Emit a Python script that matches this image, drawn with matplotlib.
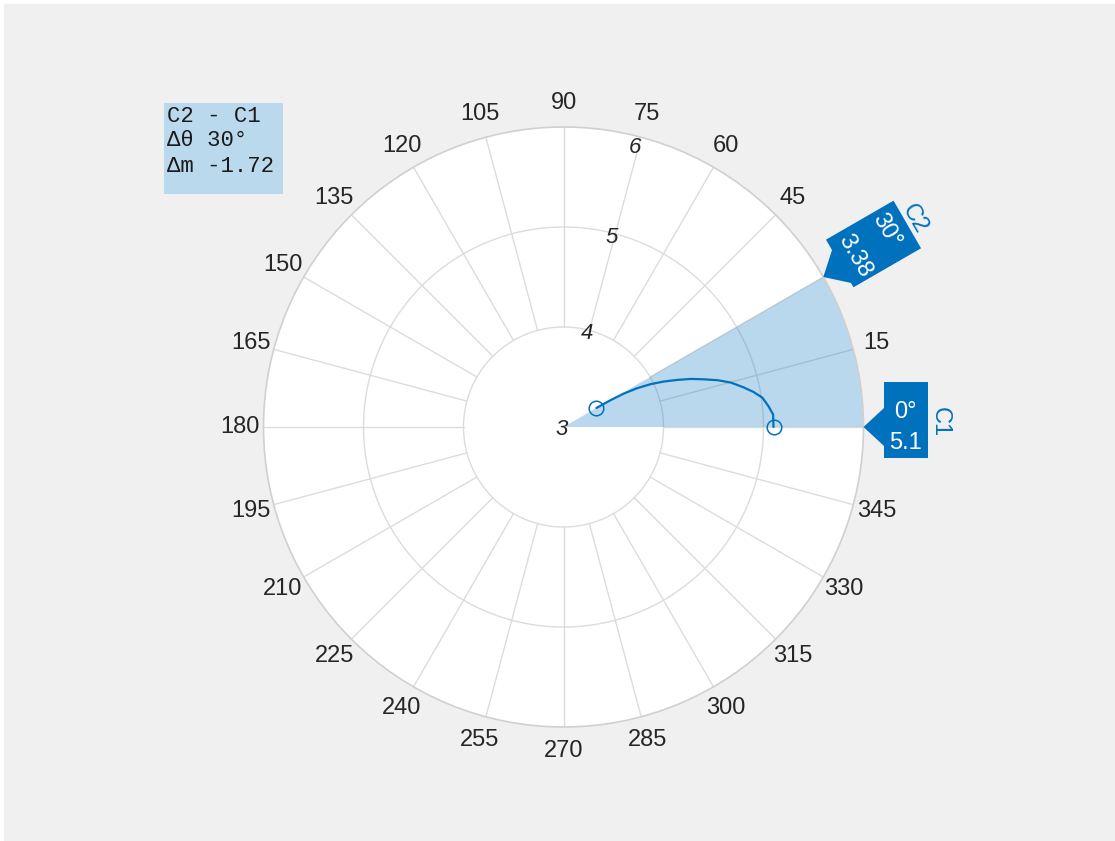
import numpy as np
import matplotlib
matplotlib.use('Agg')
import matplotlib.pyplot as plt
from matplotlib.patches import Polygon, Rectangle

# pattern data (angle in degrees, magnitude)
theta_deg = [30, 29.7, 29.0, 27.8, 26.2, 24.4, 22.5, 20.7, 18.8, 16.9, 14.9, 12.5,
             10.5, 8.4, 5.8, 3.4, 0]
magnitude = [3.38, 3.54, 3.69, 3.83, 3.97, 4.10, 4.23, 4.36, 4.48, 4.61, 4.73, 4.84,
             4.93, 5.01, 5.06, 5.10, 5.10]

# cursors
cursor_names = ['C1', 'C2']
cursor_theta = [0, 30]
cursor_mag = [5.1, 3.38]

r_ticks = [3, 4, 5, 6]
angle_ticks = list(range(0, 360, 15))

blue = '#0072BD'
grid_c = '#DCDCDC'
txt_c = '#262626'

W, H = 1115, 841
fig = plt.figure(figsize=(W / 100, H / 100), dpi=100, facecolor='white')
fig.add_artist(Rectangle((4 / W, 0), 1, (H - 4) / H, transform=fig.transFigure,
                         color='#F0F0F0', zorder=-10))

cx, cy, R = 563.5, 414, 300
ax = fig.add_axes([(cx - R) / W, (cy - R) / H, 2 * R / W, 2 * R / H], projection='polar')
ax.set_facecolor('white')
ax.set_ylim(r_ticks[0], r_ticks[-1])
ax.set_xticks([])
ax.set_yticks([])
ax.grid(False)
ax.spines['polar'].set_color('#D0D0D0')
ax.spines['polar'].set_linewidth(1.2)

# grid: rings and spokes starting at the first ring
t = np.linspace(0, 2 * np.pi, 721)
for r in r_ticks[1:-1]:
    ax.plot(t, np.full_like(t, r), color=grid_c, lw=1.0, zorder=1)
for a in angle_ticks:
    ax.plot([np.deg2rad(a)] * 2, [r_ticks[1], r_ticks[-1]], color=grid_c, lw=1.0, zorder=1)

# span between cursors
t0, t1 = min(cursor_theta), max(cursor_theta)
ax.bar(np.deg2rad((t0 + t1) / 2), r_ticks[-1] - r_ticks[0], width=np.deg2rad(t1 - t0),
       bottom=r_ticks[0], color=blue, alpha=0.27, linewidth=0, zorder=2)

ax.plot(np.deg2rad(theta_deg), magnitude, color=blue, lw=1.6, zorder=4,
        solid_joinstyle='round', solid_capstyle='round')
ax.plot(np.deg2rad(cursor_theta), cursor_mag, 'o', mfc='none', mec=blue, ms=10.5,
        mew=1.1, zorder=5)

# angle labels
for a in angle_ticks:
    if a == 0:
        continue
    ax.text(np.deg2rad(a), 6.24, str(a), ha='center', va='center', fontsize=17,
            color=txt_c, family='Liberation Sans', clip_on=False)

# magnitude labels along 75 deg
r_lab_pos = [(225, 3.03), (75.7, 3.97), (75.7, 4.96), (75.7, 5.88)]
for r, (a, rp) in zip(r_ticks, r_lab_pos):
    ax.text(np.deg2rad(a), rp, str(r), ha='center', va='center', fontsize=16,
            style='italic', color=txt_c, family='Liberation Sans', zorder=6)

# cursor boxes: local geometry in pixels (u radial, v tangential)
box_geom = {
    'C1': dict(u=(20.5, 64.5), v=(-31, 45), lines=[(41.5, 15), (41.5, -16)],
               rot=0, label=(76.5, 5)),
    'C2': dict(u=(21, 99), v=(-24, 31), lines=[(78, 9), (38, 2)],
               rot=-60, label=(108, 4)),
}
for name, th, mag in zip(cursor_names, cursor_theta, cursor_mag):
    g = box_geom[name]
    rad = np.deg2rad(th)
    tip = ax.transData.transform((rad, r_ticks[-1]))
    eu = np.array([np.cos(rad), np.sin(rad)])
    ev = np.array([-np.sin(rad), np.cos(rad)])

    def pt(u, v):
        p = tip + u * eu + v * ev
        return p[0] / W, p[1] / H

    u0, u1 = g['u']
    v0, v1 = g['v']
    a = 19
    verts = [pt(0, 0), pt(u0, -a), pt(u0, v0), pt(u1, v0), pt(u1, v1), pt(u0, v1), pt(u0, a)]
    fig.add_artist(Polygon(verts, closed=True, transform=fig.transFigure,
                           facecolor=blue, edgecolor='none', zorder=5))
    for s, (lu, lv) in zip([f'{th:g}\u00b0', f'{mag:g}'], g['lines']):
        x, y = pt(lu, lv)
        fig.text(x, y, s, rotation=g['rot'], rotation_mode='anchor', ha='center',
                 va='center', color='white', fontsize=17, family='Liberation Sans', zorder=6)
    x, y = pt(*g['label'])
    fig.text(x, y, name, rotation=th - 90, rotation_mode='anchor', ha='center',
             va='center', color=blue, fontsize=17, family='Liberation Sans', zorder=6)

# delta readout
d_theta = cursor_theta[1] - cursor_theta[0]
d_mag = round(cursor_mag[1] - cursor_mag[0], 2)
fig.add_artist(Rectangle((164 / W, (H - 194) / H), 119 / W, 91 / H, transform=fig.transFigure,
                         facecolor='#BAD9ED', edgecolor='none', zorder=5))
rows = [f'{cursor_names[1]} - {cursor_names[0]}', f'\u0394\u03b8 {d_theta:g}\u00b0',
        f'\u0394m {d_mag:g}']
for s, yy in zip(rows, [116, 140, 166]):
    fig.text(167 / W, (H - yy) / H, s, ha='left', va='center', fontsize=16, color='#1A1A1A',
             family=['Liberation Mono', 'DejaVu Sans Mono'], zorder=6)

fig.savefig('out.png', dpi=100, facecolor=fig.get_facecolor())
